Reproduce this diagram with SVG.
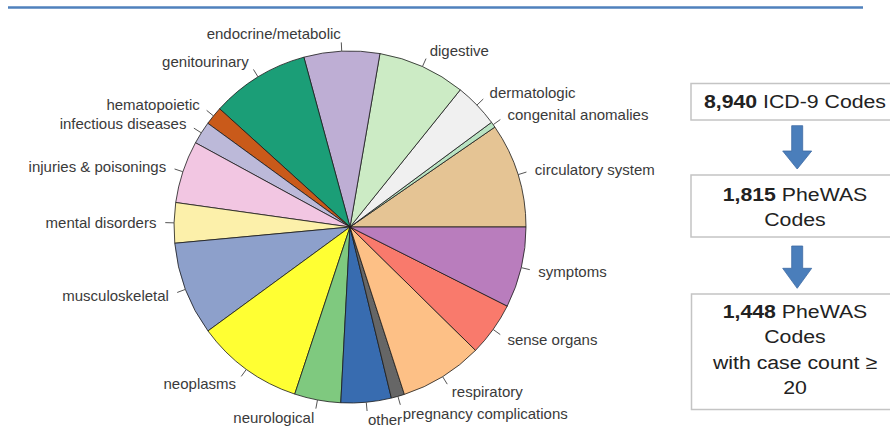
<svg xmlns="http://www.w3.org/2000/svg" width="890" height="427" viewBox="0 0 890 427">
<style>
.sl{stroke:#1a1a1a;stroke-width:0.8;stroke-linejoin:round}
.tk{stroke:#555;stroke-width:1}
.lb{font-family:"Liberation Sans",Arial,sans-serif;font-size:15px;fill:#3a3a3a}
.r{text-anchor:end}
.box{fill:#fff;stroke:#c4c4c4;stroke-width:1.5}
.bt{font-family:"Liberation Sans",Arial,sans-serif;font-size:19px;fill:#222;text-anchor:middle}
.b{font-weight:bold}
.ar{fill:#4a7ebb;stroke:#3c6aa3;stroke-width:0.8}
</style>
<line x1="8" y1="7.5" x2="863" y2="7.5" stroke="#4f81bd" stroke-width="2.5"/>
<g id="pie">
<g id="circulatory"><path class="sl" fill="#e5c494" d="M350,227 L526,227 A176,176 0 0 0 494.87,127.07 Z"/><line class="tk" x1="518.04" y1="174.66" x2="526.45" y2="172.04"/><text class="lb" x="534.85" y="174.7">circulatory system</text></g>
<g id="congenital"><path class="sl" fill="#b9e3c2" d="M350,227 L494.87,127.07 A176,176 0 0 0 491.49,122.32 Z"/><line class="tk" x1="493.19" y1="124.67" x2="500.35" y2="119.56"/><text class="lb" x="507.51" y="119.7">congenital anomalies</text></g>
<g id="dermatologic"><path class="sl" fill="#f0f0f0" d="M350,227 L491.49,122.32 A176,176 0 0 0 460.28,89.84 Z"/><line class="tk" x1="476.93" y1="105.08" x2="483.28" y2="98.99"/><text class="lb" x="489.62" y="98.2">dermatologic</text></g>
<g id="digestive"><path class="sl" fill="#ccebc5" d="M350,227 L460.28,89.84 A176,176 0 0 0 379.96,53.57 Z"/><line class="tk" x1="422.42" y1="66.59" x2="426.05" y2="58.57"/><text class="lb" x="429.67" y="55.8">digestive</text></g>
<g id="endocrine"><path class="sl" fill="#beaed4" d="M350,227 L379.96,53.57 A176,176 0 0 0 303.86,57.16 Z"/><line class="tk" x1="341.71" y1="51.19" x2="341.30" y2="42.40"/><text class="lb r" x="340.88" y="38.9">endocrine/metabolic</text></g>
<g id="genitourinary"><path class="sl" fill="#1b9e77" d="M350,227 L303.86,57.16 A176,176 0 0 0 219.62,108.78 Z"/><line class="tk" x1="258.04" y1="76.94" x2="253.44" y2="69.44"/><text class="lb r" x="248.84" y="67.2">genitourinary</text></g>
<g id="hematopoietic"><path class="sl" fill="#c95a1a" d="M350,227 L219.62,108.78 A176,176 0 0 0 207.79,123.30 Z"/><line class="tk" x1="213.48" y1="115.93" x2="206.65" y2="110.37"/><text class="lb r" x="199.83" y="110.1">hematopoietic</text></g>
<g id="infectious"><path class="sl" fill="#bcb9d9" d="M350,227 L207.79,123.30 A176,176 0 0 0 195.47,142.75 Z"/><line class="tk" x1="201.30" y1="132.84" x2="193.86" y2="128.13"/><text class="lb r" x="186.43" y="128.7">infectious diseases</text></g>
<g id="injuries"><path class="sl" fill="#f2c6e2" d="M350,227 L195.47,142.75 A176,176 0 0 0 175.71,202.50 Z"/><line class="tk" x1="182.91" y1="171.74" x2="174.55" y2="168.97"/><text class="lb r" x="166.20" y="171.5">injuries &amp; poisonings</text></g>
<g id="mental"><path class="sl" fill="#fcf0aa" d="M350,227 L175.71,202.50 A176,176 0 0 0 174.76,243.26 Z"/><line class="tk" x1="174.05" y1="222.85" x2="165.26" y2="222.64"/><text class="lb r" x="156.46" y="227.7">mental disorders</text></g>
<g id="musculoskeletal"><path class="sl" fill="#8da0cb" d="M350,227 L174.76,243.26 A176,176 0 0 0 207.97,330.95 Z"/><line class="tk" x1="185.42" y1="289.36" x2="177.19" y2="292.48"/><text class="lb r" x="168.96" y="300.9">musculoskeletal</text></g>
<g id="neoplasms"><path class="sl" fill="#ffff33" d="M350,227 L207.97,330.95 A176,176 0 0 0 294.73,394.09 Z"/><line class="tk" x1="246.42" y1="369.30" x2="241.24" y2="376.41"/><text class="lb r" x="236.07" y="388.8">neoplasms</text></g>
<g id="neurological"><path class="sl" fill="#7fc97f" d="M350,227 L294.73,394.09 A176,176 0 0 0 340.79,402.76 Z"/><line class="tk" x1="317.48" y1="399.97" x2="315.85" y2="408.62"/><text class="lb r" x="314.22" y="422.6">neurological</text></g>
<g id="other"><path class="sl" fill="#386cb0" d="M350,227 L340.79,402.76 A176,176 0 0 0 391.38,398.07 Z"/><line class="tk" x1="366.26" y1="402.24" x2="367.08" y2="411.00"/><text class="lb" x="367.89" y="425.1">other</text></g>
<g id="pregnancy"><path class="sl" fill="#666666" d="M350,227 L391.38,398.07 A176,176 0 0 0 404.38,394.39 Z"/><line class="tk" x1="397.92" y1="396.35" x2="400.32" y2="404.81"/><text class="lb" x="402.71" y="418.6">pregnancy complications</text></g>
<g id="respiratory"><path class="sl" fill="#fdc086" d="M350,227 L404.38,394.39 A176,176 0 0 0 475.54,350.36 Z"/><line class="tk" x1="442.61" y1="376.67" x2="447.24" y2="384.15"/><text class="lb" x="451.87" y="396.9">respiratory</text></g>
<g id="sense"><path class="sl" fill="#f97a6c" d="M350,227 L475.54,350.36 A176,176 0 0 0 507.24,306.08 Z"/><line class="tk" x1="493.11" y1="329.45" x2="500.26" y2="334.57"/><text class="lb" x="507.42" y="345">sense organs</text></g>
<g id="symptoms"><path class="sl" fill="#b97dbd" d="M350,227 L507.24,306.08 A176,176 0 0 0 526,227 Z"/><line class="tk" x1="521.25" y1="267.64" x2="529.81" y2="269.67"/><text class="lb" x="538.37" y="277">symptoms</text></g>
</g>
<g id="box1"><rect class="box" x="691" y="83.5" width="214" height="36.5"/><g transform="matrix(1.12 0 0 1 -95.4 0)"><text class="bt" x="795" y="108.5"><tspan class="b">8,940</tspan> ICD-9 Codes</text></g></g>
<g id="box2"><rect class="box" x="691" y="175" width="214" height="62"/><g transform="matrix(1.12 0 0 1 -95.4 0)"><text class="bt" x="795" y="201.5"><tspan class="b">1,815</tspan> PheWAS</text><text class="bt" x="795" y="226">Codes</text></g></g>
<g id="box3"><rect class="box" x="691.5" y="294" width="214" height="115.5"/><g transform="matrix(1.12 0 0 1 -95.4 0)"><text class="bt" x="795" y="318"><tspan class="b">1,448</tspan> PheWAS</text><text class="bt" x="795" y="343">Codes</text><text class="bt" x="795" y="369.5">with case count ≥</text><text class="bt" x="795" y="394.5">20</text></g></g>
<g id="connectors">
<path class="ar" d="M791.7,125.7 H802.7 V151 H811.7 L797.2,169 L782.7,151 H791.7 Z"/>
<path class="ar" d="M791.7,246 H802.7 V268.3 H811.7 L797.2,288.3 L782.7,268.3 H791.7 Z"/>
</g>
</svg>
